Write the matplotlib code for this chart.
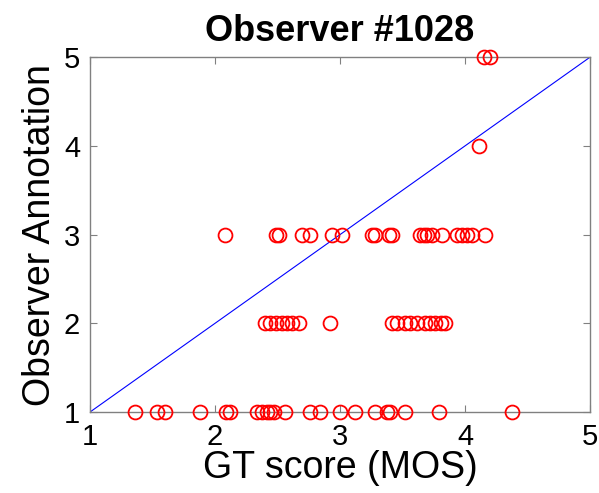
import matplotlib
matplotlib.use("Agg")
import matplotlib.pyplot as plt
import numpy as np

plt.rcParams['font.family'] = ['Liberation Sans', 'DejaVu Sans']

# GT score (MOS) for each annotation level
mos_ann1 = [1.36, 1.54, 1.60, 1.88, 2.09, 2.12, 2.34, 2.38, 2.42, 2.44, 2.47,
            2.56, 2.76, 2.84, 3.00, 3.12, 3.28, 3.38, 3.40, 3.52, 3.79, 4.38]
mos_ann2 = [2.40, 2.44, 2.49, 2.54, 2.58, 2.62, 2.67, 2.92, 3.42, 3.46, 3.52, 3.56,
            3.62, 3.68, 3.72, 3.76, 3.81, 3.84]
mos_ann3 = [2.08, 2.49, 2.51, 2.70, 2.76, 2.94, 3.02, 3.26, 3.28, 3.39, 3.42, 3.64,
            3.67, 3.70, 3.74, 3.82, 3.94, 3.98, 4.02, 4.06, 4.16]
mos_ann4 = [4.11]
mos_ann5 = [4.15, 4.20]
levels = [1, 2, 3, 4, 5]
ticks = [1, 2, 3, 4, 5]

groups = [mos_ann1, mos_ann2, mos_ann3, mos_ann4, mos_ann5]
xs = np.concatenate([np.array(g) for g in groups])
ys = np.concatenate([np.full(len(g), lv) for g, lv in zip(groups, levels)])

fig = plt.figure(figsize=(5.99, 4.93), dpi=100)
ax = fig.add_axes([0.150, 0.164, 0.835, 0.720])

ax.plot([1, 5], [1, 5], color='#0000ff', lw=0.8, zorder=1)
ax.plot(xs, ys, linestyle='none', marker='o', markersize=10,
        markerfacecolor='none', markeredgecolor='#ff0000', markeredgewidth=1.3,
        clip_on=False, zorder=3)

ax.set_xlim(1, 5)
ax.set_ylim(1, 5)
ax.set_xticks(ticks)
ax.set_yticks(ticks)
ax.tick_params(direction='in', top=True, right=True, length=5, width=0.8,
               color='#808080', labelsize=21)
ax.tick_params(axis='x', pad=8)
ax.tick_params(axis='y', pad=7)
for s in ax.spines.values():
    s.set_color('#808080')
    s.set_linewidth(1.0)

ax.set_title('Observer #1028', fontsize=26, fontweight='bold', pad=12)
ax.set_xlabel('GT score (MOS)', fontsize=27, labelpad=-1)
ax.set_ylabel('Observer Annotation', fontsize=27, labelpad=4)

fig.savefig('out.png', dpi=100)
